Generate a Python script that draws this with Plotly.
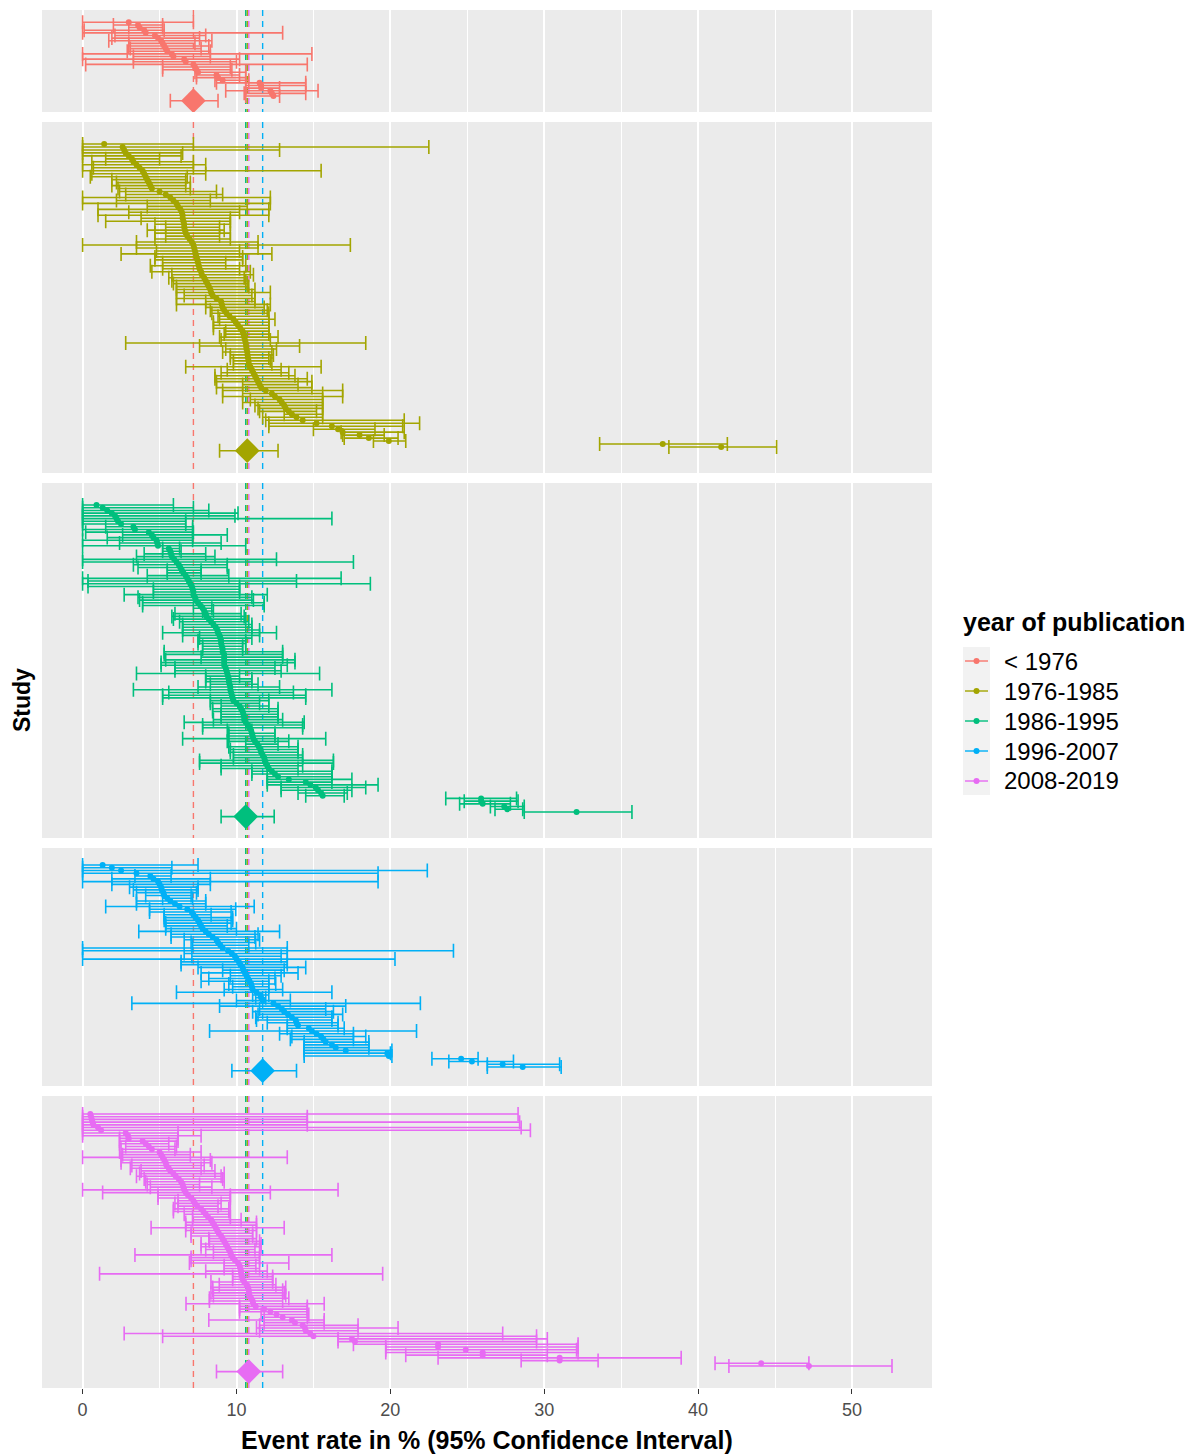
import plotly.graph_objects as go

# ---------------- data ----------------
groups = ["< 1976", "1976-1985", "1986-1995", "1996-2007", "2008-2019"]
colors = ["#F8766D", "#A3A500", "#00BF7D", "#00B0F6", "#E76BF3"]

# < 1976
est_g1 = [3.0, 3.6, 3.7, 4.0, 4.1, 4.7, 4.9, 5.1, 5.2, 5.3,
          5.4, 5.5, 5.8, 5.9, 6.6, 6.7, 7.2, 7.3, 7.4, 7.5,
          8.7, 8.8, 9.1, 11.5, 11.6, 11.6, 12.2, 12.3, 12.4]
lo_g1 = [0.0, 2.0, 3.0, 0.1, 0.0, 2.1, 1.9, 1.7, 3.0, 3.0,
         3.1, 2.9, 0.0, 3.3, 0.0, 3.3, 0.2, 5.2, 5.2, 7.3,
         7.4, 7.4, 8.6, 8.7, 10.6, 10.6, 9.3, 10.5, 10.6]
hi_g1 = [7.2, 5.2, 5.2, 5.3, 13.0, 8.0, 7.6, 8.4, 7.3, 8.2,
         7.7, 8.3, 14.9, 8.3, 10.2, 10.0, 14.6, 9.6, 9.7, 10.6,
         10.2, 10.6, 10.8, 14.5, 14.5, 12.8, 15.3, 14.5, 12.8]

# 1976-1985
est_g2 = [1.4, 2.6, 2.7, 2.8, 3.0, 3.2, 3.3, 3.5, 3.7, 3.9,
          4.0, 4.1, 4.2, 4.3, 4.4, 4.5, 5.0, 5.4, 5.7, 5.9,
          6.1, 6.2, 6.35, 6.45, 6.5, 6.5, 6.55, 6.6, 6.6, 6.65,
          6.7, 6.8, 6.95, 7.1, 7.2, 7.25, 7.3, 7.35, 7.4, 7.45,
          7.5, 7.55, 7.6, 7.7, 7.75, 7.9, 8.0, 8.1, 8.2, 8.3,
          8.35, 8.45, 8.7, 9.0, 9.05, 9.1, 9.2, 9.35, 9.55, 9.8,
          9.95, 10.1, 10.25, 10.4, 10.45, 10.5, 10.55, 10.6, 10.62, 10.65,
          10.7, 10.72, 10.75, 10.78, 10.8, 10.9, 11.0, 11.1, 11.2, 11.3,
          11.4, 11.5, 11.6, 11.9, 12.3, 12.5, 12.8, 12.95, 13.1, 13.2,
          13.4, 13.6, 13.9, 14.3, 15.2, 16.2, 16.6, 16.9, 18.0, 18.6,
          19.9, 37.7, 41.5]
lo_g2 = [0.0, 0.0, 0.0, 0.0, 0.0, 1.5, 0.6, 0.0, 0.7, 0.0,
         0.6, 0.5, 1.9, 2.2, 1.9, 2.3, 2.4, 2.8, 0.0, 2.2,
         0.0, 4.2, 1.0, 3.0, 1.0, 3.8, 1.5, 4.7, 5.4, 4.2,
         4.7, 5.4, 4.7, 3.5, 0.0, 3.5, 4.8, 2.5, 4.7, 4.7,
         5.2, 4.4, 5.2, 4.5, 5.8, 5.6, 5.8, 5.9, 6.1, 6.1,
         6.1, 6.6, 6.1, 8.0, 6.1, 8.0, 8.3, 8.4, 8.8, 8.9,
         8.5, 8.5, 8.5, 9.3, 9.2, 8.9, 9.0, 2.8, 7.6, 9.3,
         9.1, 9.6, 9.6, 9.8, 9.8, 6.7, 9.4, 9.0, 8.6, 8.6,
         8.7, 10.4, 8.7, 9.1, 10.4, 9.1, 10.9, 10.4, 11.2, 11.4,
         11.5, 13.1, 11.7, 11.9, 12.1, 12.1, 15.0, 16.8, 16.9, 17.0,
         18.9, 33.6, 38.1]
hi_g2 = [7.2, 22.5, 12.8, 6.5, 6.4, 5.0, 7.2, 8.0, 7.2, 15.5,
         8.0, 6.8, 6.7, 7.0, 6.7, 7.0, 8.7, 9.1, 12.2, 8.3,
         12.2, 10.7, 12.1, 10.2, 12.1, 9.6, 9.6, 9.6, 8.9, 9.2,
         9.6, 8.9, 9.6, 11.4, 17.4, 11.4, 10.2, 12.3, 10.4, 10.4,
         9.3, 10.6, 10.2, 10.9, 11.1, 10.5, 10.6, 10.7, 10.8, 11.2,
         12.2, 11.0, 11.2, 11.2, 12.2, 11.8, 12.0, 12.1, 12.1, 12.5,
         12.1, 12.1, 12.1, 12.1, 12.1, 12.7, 12.2, 18.4, 14.1, 12.6,
         12.3, 12.4, 12.1, 12.2, 12.3, 15.5, 12.9, 13.4, 13.8, 14.6,
         14.9, 14.0, 14.9, 16.9, 15.6, 16.9, 15.6, 15.6, 15.6, 15.6,
         15.2, 15.6, 15.6, 20.9, 21.9, 20.8, 19.0, 20.9, 19.6, 20.5,
         21.0, 41.9, 45.1]

# 1986-1995
est_g3 = [0.9, 1.3, 1.6, 1.9, 2.1, 2.2, 2.3, 2.5, 3.3, 3.4,
          4.3, 4.5, 4.6, 4.8, 4.85, 4.9, 5.6, 5.7, 5.75, 5.8,
          5.95, 6.1, 6.25, 6.35, 6.45, 6.55, 6.7, 6.8, 6.9, 7.0,
          7.1, 7.15, 7.2, 7.2, 7.3, 7.35, 7.5, 7.65, 7.8, 7.9,
          8.0, 8.05, 8.2, 8.35, 8.5, 8.65, 8.75, 8.8, 8.9, 8.95,
          9.0, 9.0, 9.05, 9.1, 9.1, 9.2, 9.2, 9.2, 9.2, 9.2,
          9.3, 9.35, 9.4, 9.45, 9.5, 9.5, 9.55, 9.6, 9.6, 9.65,
          9.7, 9.75, 9.8, 10.0, 10.2, 10.3, 10.4, 10.45, 10.5, 10.5,
          10.6, 10.75, 10.85, 10.95, 11.0, 11.05, 11.1, 11.2, 11.35, 11.45,
          11.55, 11.6, 11.7, 11.8, 11.85, 11.9, 12.0, 12.1, 12.3, 12.5,
          12.7, 13.4, 14.5, 14.8, 15.15, 15.3, 15.5, 15.6, 25.9, 25.9,
          26.0, 27.4, 27.6, 32.1]
lo_g3 = [0.0, 0.0, 0.0, 0.0, 0.0, 0.0, 0.0, 0.0, 1.5, 0.0,
         0.2, 2.6, 1.6, 0.0, 2.4, 0.0, 5.2, 5.2, 4.0, 3.5,
         0.0, 0.0, 3.3, 3.6, 5.5, 5.5, 4.2, 0.0, 0.35, 0.0,
         0.35, 4.6, 4.6, 2.7, 3.6, 3.7, 3.9, 3.9, 7.2, 7.8,
         6.0, 5.8, 5.9, 6.3, 6.5, 6.5, 6.5, 5.2, 6.5, 7.6,
         7.5, 7.5, 7.8, 7.8, 5.3, 5.3, 7.7, 5.4, 5.1, 5.1,
         6.0, 6.0, 3.5, 8.0, 8.0, 8.0, 8.3, 7.5, 3.3, 5.6,
         5.2, 5.2, 8.3, 8.3, 9.0, 8.45, 8.45, 9.0, 9.0, 8.5,
         6.6, 7.8, 7.8, 9.4, 9.5, 9.5, 6.5, 9.4, 10.6, 9.5,
         9.6, 9.6, 9.8, 9.8, 7.6, 7.6, 9.0, 9.0, 11.0, 11.0,
         12.0, 12.0, 12.0, 12.0, 12.9, 12.9, 14.0, 14.5, 23.6, 24.8,
         24.5, 26.5, 26.8, 28.7]
hi_g3 = [5.9, 7.2, 8.2, 10.1, 9.9, 16.2, 6.7, 6.7, 7.15, 7.15,
         7.2, 9.4, 7.15, 7.15, 9.0, 10.6, 6.3, 6.4, 8.0, 8.6,
         12.6, 17.6, 9.4, 9.4, 7.7, 7.7, 9.5, 16.8, 13.9, 18.7,
         10.2, 10.2, 10.2, 12.0, 11.0, 11.1, 11.8, 11.8, 8.4, 8.5,
         10.3, 10.5, 10.6, 10.8, 11.0, 11.0, 11.5, 12.6, 11.5, 11.0,
         10.6, 10.6, 10.4, 10.4, 13.0, 13.0, 13.0, 13.8, 13.8, 13.3,
         12.5, 12.9, 15.4, 10.2, 11.0, 11.0, 11.4, 12.8, 16.2, 13.7,
         14.5, 14.5, 12.1, 11.5, 12.1, 12.7, 12.7, 12.7, 12.7, 13.0,
         14.4, 14.3, 14.3, 11.0, 12.5, 12.5, 15.8, 13.4, 12.7, 14.0,
         14.0, 14.0, 14.3, 14.3, 16.3, 16.3, 14.3, 14.0, 16.2, 16.2,
         16.2, 17.5, 16.2, 19.2, 18.4, 17.5, 17.2, 17.0, 28.2, 28.3,
         27.8, 28.7, 28.6, 35.7]

# 1996-2007
est_g4 = [1.3, 1.9, 2.5, 3.5, 4.4, 4.6, 4.9, 5.0, 5.1, 5.15,
          5.25, 5.3, 5.5, 5.7, 6.0, 6.3, 6.8, 7.1, 7.2, 7.35,
          7.5, 7.6, 7.7, 7.8, 8.0, 8.2, 8.45, 8.7, 8.8, 8.95,
          9.1, 9.45, 9.7, 9.9, 10.0, 10.15, 10.25, 10.4, 10.45, 10.55,
          10.65, 10.75, 10.85, 10.95, 11.0, 11.05, 11.3, 11.55, 11.6, 11.7,
          12.4, 12.7, 12.95, 13.1, 13.35, 13.6, 13.85, 13.9, 14.0, 14.7,
          14.9, 15.2, 15.5, 15.65, 15.8, 16.2, 16.45, 17.1, 19.8, 19.9,
          24.6, 25.3, 27.3, 28.6]
lo_g4 = [0.0, 0.0, 0.0, 0.0, 3.4, 1.9, 0.0, 1.9, 3.05, 3.3,
         3.5, 4.1, 5.2, 3.5, 3.5, 1.5, 4.35, 4.35, 5.3, 5.3,
         5.3, 5.4, 5.4, 5.4, 3.65, 5.75, 5.75, 6.6, 7.05, 7.15,
         0.0, 0.0, 6.6, 7.1, 0.0, 6.4, 6.4, 7.5, 9.1, 7.7,
         9.6, 8.2, 7.7, 9.5, 9.75, 9.2, 6.1, 11.05, 11.25, 10.0,
         3.2, 8.9, 11.5, 11.05, 11.4, 11.25, 11.3, 12.0, 13.3, 13.3,
         8.25, 12.8, 13.6, 13.5, 14.4, 14.4, 14.4, 14.4, 14.4, 14.4,
         22.7, 23.8, 26.3, 26.3]
hi_g4 = [7.5, 5.8, 22.4, 19.2, 5.75, 8.3, 19.2, 8.3, 7.5, 7.5,
         7.4, 7.05, 7.15, 8.0, 8.0, 11.15, 9.95, 9.65, 8.35, 9.75,
         9.75, 9.65, 9.4, 10.0, 12.8, 11.4, 11.2, 11.5, 11.25, 10.8,
         13.3, 24.1, 13.3, 12.9, 20.3, 13.3, 13.3, 14.5, 13.1, 14.0,
         12.9, 12.5, 12.1, 12.55, 12.1, 13.0, 16.2, 12.1, 11.9, 13.5,
         21.95, 17.1, 15.8, 16.3, 16.9, 16.2, 16.2, 16.6, 16.6, 17.0,
         21.7, 17.6, 18.4, 17.6, 18.6, 18.6, 18.6, 20.1, 20.0, 20.1,
         25.7, 28.0, 31.0, 31.1]

# 2008-2019
est_g5 = [0.5, 0.55, 0.6, 0.65, 0.7, 1.0, 1.2, 2.8, 2.95, 3.0,
          3.9, 4.1, 4.3, 4.5, 5.0, 5.1, 5.2, 5.3, 5.4, 5.45,
          5.6, 5.7, 5.9, 6.05, 6.25, 6.4, 6.5, 6.55, 6.6, 6.7,
          6.85, 7.05, 7.2, 7.3, 7.45, 7.7, 7.85, 8.0, 8.15, 8.35,
          8.45, 8.55, 8.65, 8.75, 8.85, 9.0, 9.1, 9.2, 9.3, 9.4,
          9.5, 9.6, 9.65, 9.75, 9.9, 10.1, 10.2, 10.25, 10.3, 10.3,
          10.35, 10.4, 10.5, 10.65, 10.75, 10.8, 10.8, 10.85, 10.95, 11.05,
          11.1, 11.25, 11.8, 12.2, 12.6, 13.0, 13.6, 13.8, 14.3, 14.45,
          14.5, 14.8, 15.0, 17.5, 17.7, 23.1, 23.1, 24.9, 26.0, 26.0,
          31.0, 31.0, 44.1, 47.2]
lo_g5 = [0.0, 0.0, 0.0, 0.0, 0.0, 0.0, 0.0, 0.0, 0.0, 2.4,
         2.4, 2.4, 2.8, 2.5, 2.4, 2.6, 0.0, 2.5, 2.5, 3.2,
         3.1, 3.8, 3.7, 3.5, 4.0, 4.1, 4.2, 4.4, 0.0, 1.3,
         4.9, 4.9, 6.2, 6.0, 6.2, 5.9, 5.9, 6.6, 7.15, 7.15,
         6.7, 6.7, 4.45, 6.7, 7.05, 7.05, 8.2, 8.24, 7.7, 7.7,
         8.0, 8.5, 3.4, 7.05, 7.05, 6.94, 9.2, 9.2, 8.0, 1.1,
         9.75, 9.75, 8.34, 8.88, 8.45, 8.45, 8.34, 8.5, 8.24, 8.24,
         6.72, 10.2, 10.2, 10.2, 11.6, 11.8, 8.2, 11.8, 11.5, 11.3,
         11.5, 2.7, 5.2, 16.6, 16.6, 17.6, 19.7, 19.7, 19.7, 21.0,
         23.1, 28.5, 41.1, 42.0]
hi_g5 = [28.3, 14.6, 14.6, 28.4, 14.6, 28.5, 29.1, 6.2, 7.7, 6.2,
         6.2, 5.6, 6.1, 6.0, 7.7, 7.0, 13.3, 8.3, 8.4, 7.9,
         7.7, 8.6, 9.2, 9.0, 9.1, 9.2, 7.6, 8.4, 16.6, 12.2,
         9.6, 9.6, 9.6, 9.0, 8.8, 9.5, 9.5, 9.6, 9.6, 10.3,
         11.3, 11.3, 13.1, 11.3, 11.05, 11.05, 11.3, 11.5, 11.6, 11.6,
         11.2, 11.5, 16.2, 11.5, 11.5, 13.4, 11.26, 11.5, 12.0, 19.5,
         12.35, 12.35, 12.35, 12.56, 13.2, 13.0, 13.1, 13.2, 13.4, 13.0,
         15.7, 14.6, 14.6, 14.6, 14.7, 14.6, 15.7, 15.7, 17.9, 20.5,
         17.9, 27.3, 29.5, 30.2, 29.5, 32.2, 32.2, 32.1, 32.2, 30.2,
         38.9, 33.5, 47.2, 52.6]

# pooled estimate per period
pooled_est = [7.2, 10.7, 10.6, 11.7, 10.8]
pooled_lo = [5.7, 8.9, 9.0, 9.7, 8.7]
pooled_hi = [8.8, 12.7, 12.45, 13.9, 13.0]

x_ticks = [0, 10, 20, 30, 40, 50]
x_minor = [5, 15, 25, 35, 45]

series = [(est_g1, lo_g1, hi_g1), (est_g2, lo_g2, hi_g2), (est_g3, lo_g3, hi_g3),
          (est_g4, lo_g4, hi_g4), (est_g5, lo_g5, hi_g5)]

# ---------------- geometry (pixels) ----------------
FIG_W, FIG_H = 1195, 1454
LEFT, RIGHT, TOP, BOTTOM = 42, 932, 10, 1388
# panel: top edge, bottom edge, first study row, last study row, pooled row
panel_px = [
    (10, 112, 22.3, 96.0, 100.7),
    (122, 473, 144.0, 447.0, 450.7),
    (483, 838, 505.0, 812.0, 816.6),
    (848, 1086, 865.0, 1067.0, 1070.7),
    (1096, 1388, 1114.0, 1366.0, 1371.6),
]
XRANGE = [-2.64, 55.2]
FONT = "Liberation Sans, Arial, sans-serif"
BAR_W = 1.6     # error bar line width
CAP = 7         # half-height of whisker caps


def paper_y(px):
    return (BOTTOM - px) / (BOTTOM - TOP)


def paper_x(px):
    return (px - LEFT) / (RIGHT - LEFT)


fig = go.Figure()
layout_axes = {}

for k in range(5):
    top, bot, first, last, pooled_px = panel_px[k]
    est, lo, hi = series[k]
    n = len(est)
    step = (last - first) / (n - 1)
    rows = list(range(n))
    y_top = (top - first) / step
    y_bot = (bot - first) / step
    y_pool = (pooled_px - first) / step
    xa = "x" if k == 0 else "x%d" % (k + 1)
    ya = "y" if k == 0 else "y%d" % (k + 1)

    # dashed reference lines at each period's pooled estimate
    for j in range(5):
        fig.add_trace(go.Scatter(
            x=[pooled_est[j], pooled_est[j]], y=[y_top, y_bot], mode="lines",
            line=dict(color=colors[j], width=1.4, dash="6px,5px"),
            xaxis=xa, yaxis=ya, hoverinfo="skip", showlegend=False))

    # individual studies with 95% CI
    fig.add_trace(go.Scatter(
        x=est, y=rows, mode="markers",
        marker=dict(color=colors[k], size=6),
        error_x=dict(type="data", symmetric=False,
                     array=[h - e for e, h in zip(est, hi)],
                     arrayminus=[e - l for e, l in zip(est, lo)],
                     color=colors[k], thickness=BAR_W, width=CAP),
        xaxis=xa, yaxis=ya, name=groups[k], showlegend=False))

    # pooled estimate diamond
    fig.add_trace(go.Scatter(
        x=[pooled_est[k]], y=[y_pool], mode="markers",
        marker=dict(color=colors[k], size=19, symbol="diamond"),
        error_x=dict(type="data", symmetric=False,
                     array=[pooled_hi[k] - pooled_est[k]],
                     arrayminus=[pooled_est[k] - pooled_lo[k]],
                     color=colors[k], thickness=BAR_W, width=CAP),
        xaxis=xa, yaxis=ya, showlegend=False))

    xkey = "xaxis" if k == 0 else "xaxis%d" % (k + 1)
    ykey = "yaxis" if k == 0 else "yaxis%d" % (k + 1)
    last_panel = (k == 4)
    layout_axes[xkey] = dict(
        domain=[0, 1], range=XRANGE, anchor=ya,
        tickmode="array", tickvals=x_ticks,
        showgrid=True, gridcolor="white", gridwidth=1.6,
        minor=dict(tickmode="array", tickvals=x_minor, showgrid=True,
                   gridcolor="white", gridwidth=0.9),
        zeroline=False, showline=False,
        showticklabels=last_panel,
        ticks="outside" if last_panel else "", ticklen=5, tickwidth=1.2,
        tickcolor="#333333",
        tickfont=dict(family=FONT, size=18, color="#4D4D4D"))
    layout_axes[ykey] = dict(
        domain=[paper_y(bot), paper_y(top)], range=[y_bot, y_top], anchor=xa,
        showgrid=False, zeroline=False, showline=False,
        showticklabels=False, ticks="")

annotations = [
    dict(text="<b>Event rate in % (95% Confidence Interval)</b>", xref="paper", yref="paper",
         x=0.5, y=paper_y(1440), xanchor="center", yanchor="middle", showarrow=False,
         font=dict(family=FONT, size=25, color="black")),
    dict(text="<b>Study</b>", xref="paper", yref="paper", x=paper_x(22), y=paper_y(700),
         xanchor="center", yanchor="middle", textangle=-90, showarrow=False,
         font=dict(family=FONT, size=23, color="black")),
    dict(text="<b>year of publication</b>", xref="paper", yref="paper",
         x=paper_x(961), y=paper_y(622), xanchor="left", yanchor="middle", showarrow=False,
         font=dict(family=FONT, size=25, color="black")),
]

# legend keys
shapes = [dict(type="rect", xref="paper", yref="paper", x0=paper_x(963), x1=paper_x(990),
               y0=paper_y(795), y1=paper_y(647), fillcolor="#F2F2F2", line=dict(width=0),
               layer="below")]
key_y = [661, 691, 721, 751, 781]
for j in range(5):
    yy = paper_y(key_y[j])
    shapes.append(dict(type="line", xref="paper", yref="paper", x0=paper_x(965), x1=paper_x(988),
                       y0=yy, y1=yy, line=dict(color=colors[j], width=1.4)))
    shapes.append(dict(type="circle", xref="paper", yref="paper",
                       x0=paper_x(973.5), x1=paper_x(979.5),
                       y0=paper_y(key_y[j] + 3), y1=paper_y(key_y[j] - 3),
                       fillcolor=colors[j], line=dict(width=0)))
    annotations.append(dict(text=groups[j], xref="paper", yref="paper", x=paper_x(1002), y=yy,
                            xanchor="left", yanchor="middle", showarrow=False,
                            font=dict(family=FONT, size=24, color="black")))

fig.update_layout(
    width=FIG_W, height=FIG_H,
    margin=dict(l=LEFT, r=FIG_W - RIGHT, t=TOP, b=FIG_H - BOTTOM, pad=0),
    paper_bgcolor="white", plot_bgcolor="#EBEBEB",
    showlegend=False, annotations=annotations, shapes=shapes,
    font=dict(family=FONT),
    **layout_axes)

fig.write_html("out.html")
